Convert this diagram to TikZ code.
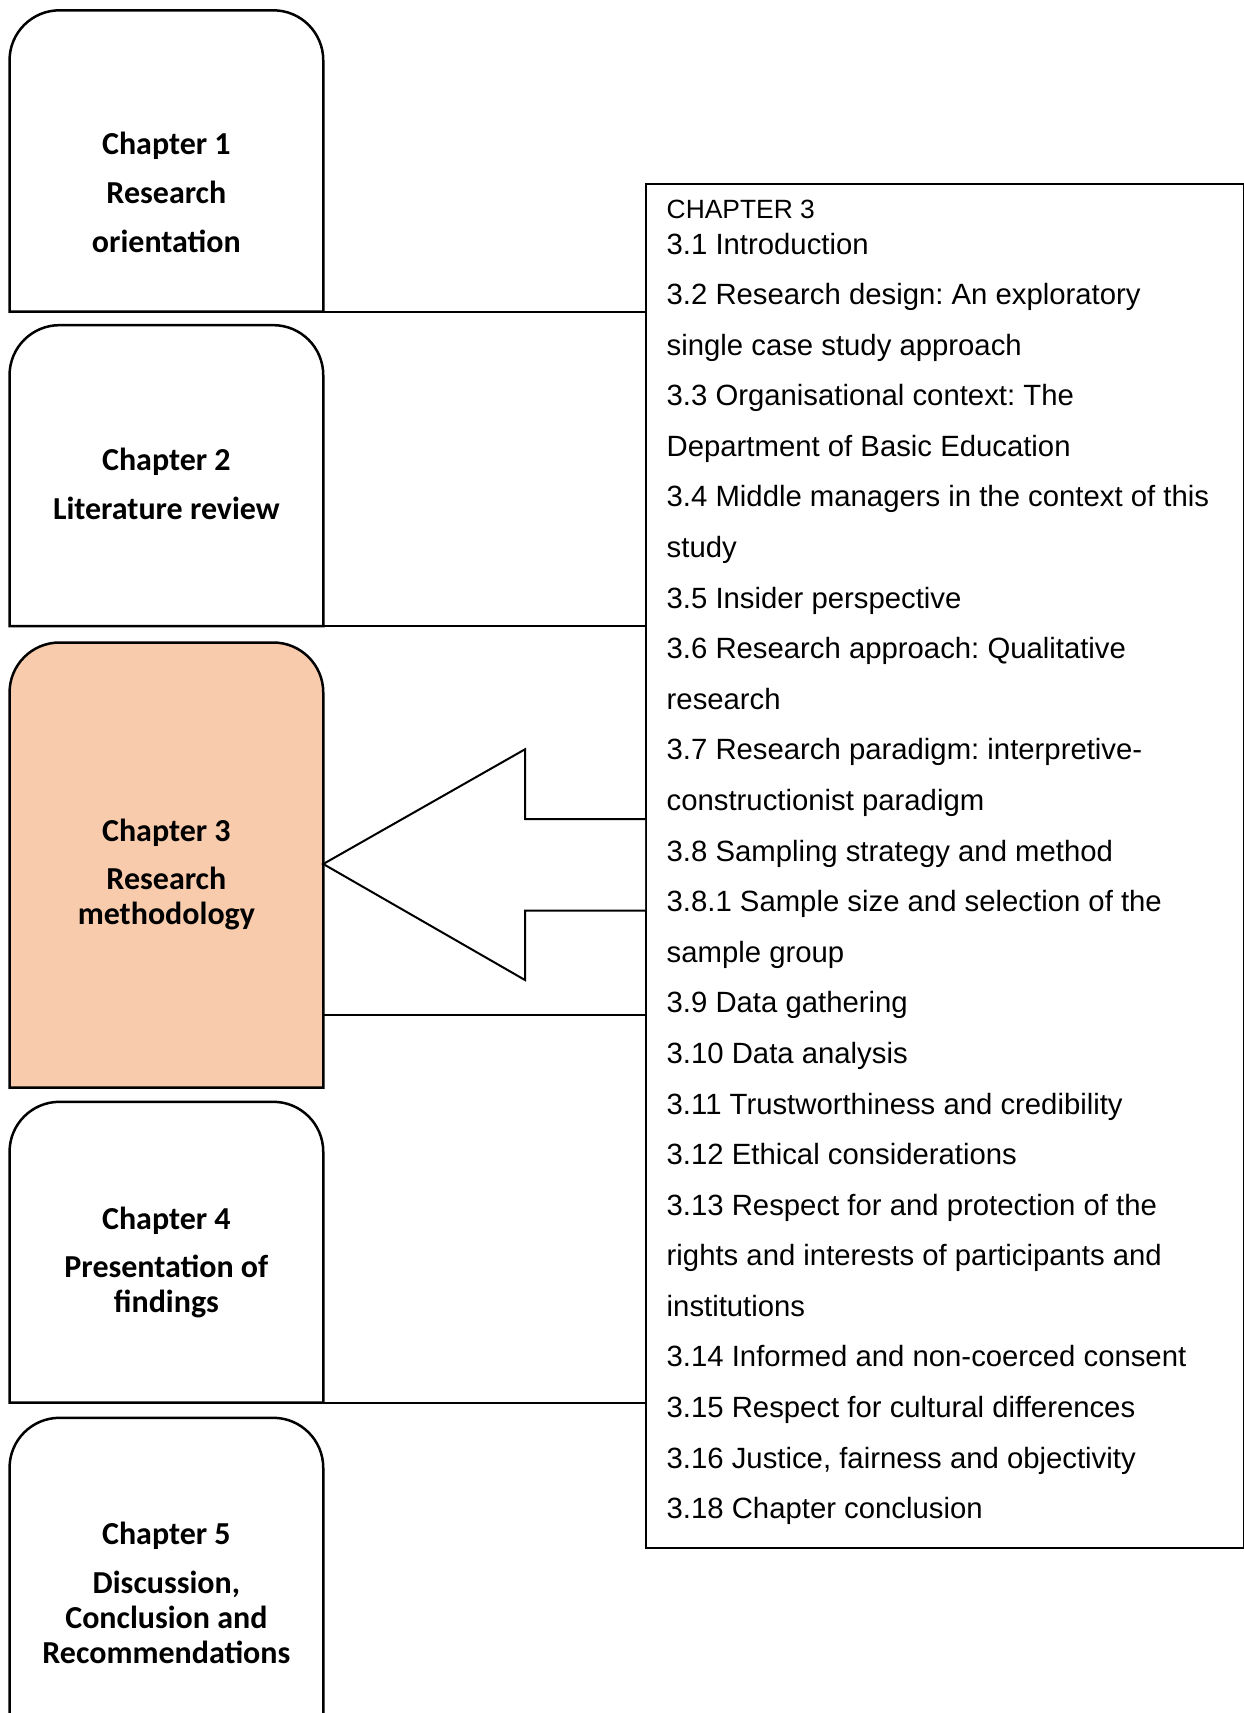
\documentclass[tikz,border=0pt]{standalone}
\usepackage{fontspec}
\setmainfont{Liberation Sans}
\newfontfamily\chapfont{Carlito}
\usetikzlibrary{calc}
\definecolor{peach}{HTML}{F8CBAD}
\frenchspacing

% one tab-shaped chapter box: rounded top corners, square bottom
\newcommand\tabbox[2]{%
  \draw[#2] (#1.south west) -- ([yshift=-50pt]#1.north west)
    arc[start angle=180,end angle=90,radius=50pt]
    -- ([xshift=-50pt]#1.north east)
    arc[start angle=90,end angle=0,radius=50pt]
    -- (#1.south east) -- cycle;}
% same box, left open at the bottom
\newcommand\tabboxopen[2]{%
  \draw[#2] (#1.south west) -- ([yshift=-50pt]#1.north west)
    arc[start angle=180,end angle=90,radius=50pt]
    -- ([xshift=-50pt]#1.north east)
    arc[start angle=90,end angle=0,radius=50pt]
    -- (#1.south east);}

\tikzset{
  frame/.style={draw=none, inner sep=0pt, minimum width=313.3pt},
  chline/.style={draw=black, line width=2.5pt},
  link/.style={draw=black, line width=2pt},
  headtxt/.style={font=\chapfont\bfseries\fontsize{32}{40}\selectfont, anchor=base, inner sep=0pt},
  subtxt/.style={font=\chapfont\bfseries\fontsize{32}{35}\selectfont, anchor=base, inner sep=0pt},
  item/.style={font=\fontsize{29.3}{35}\selectfont, anchor=base west, inner sep=0pt},
  listbox/.style={draw=black, line width=2pt, inner sep=0pt, anchor=north west,
    minimum width=597.7pt, minimum height=1364pt},
}

\begin{document}
\begin{tikzpicture}[x=1pt,y=1pt]
\useasboundingbox[fill=white] (0,0) rectangle (1244,-1713);

% chapter box frames (positions of the tab shapes)
\node[frame, minimum height=300.8pt] (ch1) at (166.4,-160.9) {};
\node[frame, minimum height=300.5pt] (ch2) at (166.4,-475.6) {};
\node[frame, minimum height=444.8pt] (ch3) at (166.4,-865.1) {};
\node[frame, minimum height=300.4pt] (ch4) at (166.4,-1252.2) {};
\node[frame, minimum height=312pt]   (ch5) at (166.4,-1574) {};

\tabbox{ch1}{chline}
\tabbox{ch2}{chline}
\tabbox{ch3}{chline, fill=peach}
\tabbox{ch4}{chline}
\tabboxopen{ch5}{chline}

% chapter titles
\node[headtxt] (t1a) at (166.4,-154) {Chapter 1};
\node[headtxt] (t1b) at (166.4,-203) {Research};
\node[headtxt] (t1c) at (166.4,-252) {orientation};

\node[headtxt] (t2a) at (166.4,-470) {Chapter 2};
\node[headtxt] (t2b) at (166.4,-519) {Literature review};

\node[headtxt] (t3a) at (166.4,-841) {Chapter 3};
\node[subtxt]  (t3b) at (166.4,-889) {Research};
\node[subtxt]  (t3c) at (166.4,-924) {methodology};

\node[headtxt] (t4a) at (166.4,-1229) {Chapter 4};
\node[subtxt]  (t4b) at (166.4,-1277) {Presentation of};
\node[subtxt]  (t4c) at (166.4,-1312) {findings};

\node[headtxt] (t5a) at (166.4,-1544.5) {Chapter 5};
\node[subtxt]  (t5b) at (166.4,-1593) {Discussion,};
\node[subtxt]  (t5c) at (166.4,-1628) {Conclusion and};
\node[subtxt]  (t5d) at (166.4,-1663) {Recommendations};

% contents box of chapter 3
\node[listbox] (list) at (645,-182.6) {};

% connectors from the chapter boxes to the contents box
\coordinate (k1) at (ch1.south east);
\coordinate (k2) at (ch2.south east);
\coordinate (k3) at ($(ch3.east)+(0,-150)$);
\coordinate (k4) at (ch4.south east);
\draw[link] (k1) -- (k1 -| list.west);
\draw[link] (k2) -- (k2 -| list.west);
\draw[link] (k3) -- (k3 -| list.west);
\draw[link] (k4) -- (k4 -| list.west);

% block arrow pointing to chapter 3
\coordinate (tip) at (ch3.east |- 0,-864);
\coordinate (b1) at (525,-749.3);
\coordinate (n1) at (525,-819);
\coordinate (s1) at (list.west |- 0,-819);
\coordinate (s2) at (list.west |- 0,-910.7);
\coordinate (n2) at (525,-910.7);
\coordinate (b2) at (525,-980);
\draw[link, fill=white, line join=miter] (s1) -- (n1) -- (b1) -- (tip) -- (b2) -- (n2) -- (s2);

% contents list
\node[item, font=\fontsize{26.4}{32}\selectfont] (head) at (666.5,-218) {CHAPTER 3};
\foreach \txt [count=\i from 0] in {
  3.1 Introduction,
  3.2 Research design: An exploratory,
  single case study approach,
  3.3 Organisational context: The,
  Department of Basic Education,
  3.4 Middle managers in the context of this,
  study,
  3.5 Insider perspective,
  3.6 Research approach: Qualitative,
  research,
  3.7 Research paradigm: interpretive-,
  constructionist paradigm,
  3.8 Sampling strategy and method,
  3.8.1 Sample size and selection of the,
  sample group,
  3.9 Data gathering,
  3.10 Data analysis,
  3.11 Trustworthiness and credibility,
  3.12 Ethical considerations,
  3.13 Respect for and protection of the,
  rights and interests of participants and,
  institutions,
  3.14 Informed and non-coerced consent,
  3.15 Respect for cultural differences,
  {3.16 Justice, fairness and objectivity},
  3.18 Chapter conclusion}
  \node[item] (line\i) at (666.5,-254-50.59*\i) {\txt};
\end{tikzpicture}
\end{document}
